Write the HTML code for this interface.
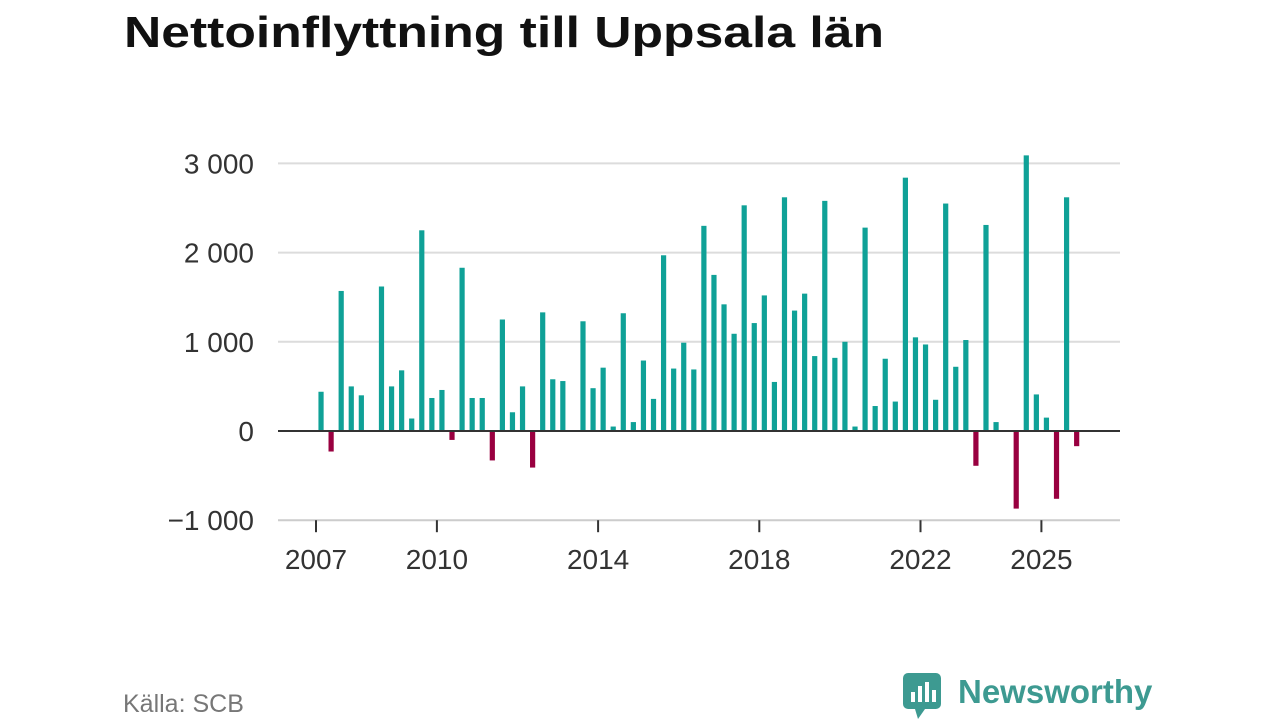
<!DOCTYPE html>
<html><head><meta charset="utf-8">
<style>
body{margin:0;background:#fff;width:1280px;height:720px;overflow:hidden;font-family:"Liberation Sans",sans-serif;}
</style></head>
<body>
<svg width="1280" height="720">
<text x="124" y="47" font-size="44" font-weight="bold" fill="#111" textLength="760" lengthAdjust="spacingAndGlyphs">Nettoinflyttning till Uppsala län</text>
<g id="grid"></g><g id="bars"></g><g id="axes"></g>
<text x="123" y="712" font-size="25" fill="#777">Källa: SCB</text>
<g>
<rect x="903" y="673" width="38" height="36" rx="5" fill="#3d9a91"/>
<polygon points="915,709 925,709 918,719" fill="#3d9a91"/>
<rect x="911" y="692" width="4" height="10" fill="#fff"/><rect x="918" y="686" width="4" height="16" fill="#fff"/><rect x="925" y="682" width="4" height="20" fill="#fff"/><rect x="932" y="690" width="4" height="12" fill="#fff"/>
<text x="958" y="703" font-size="33" font-weight="bold" fill="#3d9a91">Newsworthy</text>
</g>
</svg>
<script>
const yTicks=[-1000,0,1000,2000,3000];
const yTickLabels=["\u22121 000","0","1 000","2 000","3 000"];
const xTickYears=[2007,2010,2014,2018,2022,2025];
const startYear=2007;
const values=[440,-230,1570,500,400,0,1620,500,680,140,2250,370,460,-100,1830,370,370,-330,1250,210,500,-410,1330,580,560,0,1230,480,710,50,1320,100,790,360,1970,700,990,690,2300,1750,1420,1090,2530,1210,1520,550,2620,1350,1540,840,2580,820,1000,50,2280,280,810,330,2840,1050,970,350,2550,720,1020,-390,2310,100,0,-870,3090,410,150,-760,2620,-170];
const NS="http://www.w3.org/2000/svg";
const y=v=>431-v*0.0892;
const x=t=>316+(t-startYear)*40.3;
function mk(tag,attrs,parent){const e=document.createElementNS(NS,tag);for(const k in attrs)e.setAttribute(k,attrs[k]);parent.appendChild(e);return e;}
const grid=document.getElementById('grid'),bars=document.getElementById('bars'),axes=document.getElementById('axes');
yTicks.forEach((v,i)=>{
 if(v>0){const l=mk('line',{x1:278,x2:1120,y1:y(v),y2:y(v),stroke:'#dcdcdc','stroke-width':2},grid);
 
 }
 const t=mk('text',{x:254,y:y(v)+10,'font-size':28,'text-anchor':'end',fill:'#333'},axes);t.textContent=yTickLabels[i];
 
 
});
const bl=mk('line',{x1:278,x2:1120,y1:y(-1000),y2:y(-1000),stroke:'#ccc','stroke-width':2},axes);


values.forEach((v,i)=>{
 const cx=x(startYear+(i+0.5)/4);
 const r=mk('rect',{x:cx-2.6,y:Math.min(y(v),y(0)),width:5.2,height:Math.abs(y(v)-y(0)),fill:v>=0?'#0fa197':'#990040'},bars);
 
 
});
const z=mk('line',{x1:278,x2:1120,y1:y(0),y2:y(0),stroke:'#333','stroke-width':2},axes);


xTickYears.forEach(yr=>{
 const px=x(yr);
 const tk=mk('line',{x1:px,x2:px,y1:y(-1000),y2:y(-1000)+12,stroke:'#333','stroke-width':2},axes);
 
 
 const t=mk('text',{x:px,y:569,'font-size':28,'text-anchor':'middle',fill:'#333'},axes);t.textContent=yr;
 
 
});
</script>
</body></html>
